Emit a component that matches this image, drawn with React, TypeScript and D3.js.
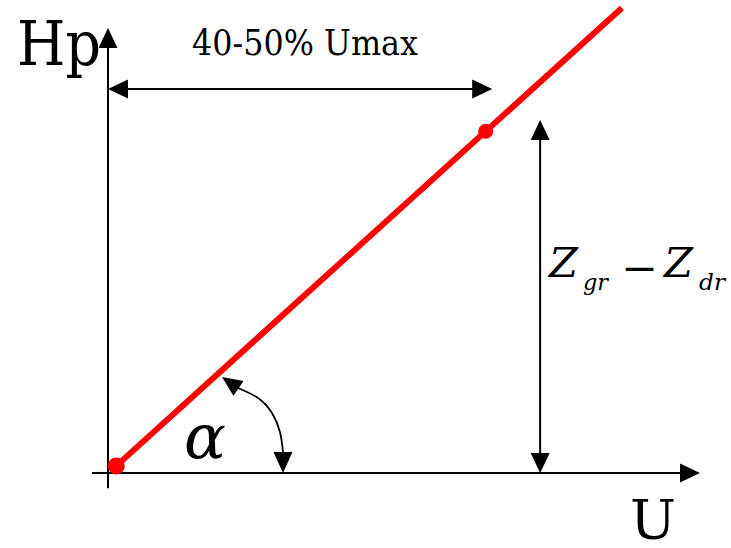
import React from "react";
import * as d3 from "d3";

// diagram values in abstract units (0..100 on both axes)
const uAxis = [-2.7, 100];
const hpAxis = [-3.4, 100];
const headLine = [[1.4, 1.6], [86.8, 104.5]];
const headPoints = [[1.4, 1.6], [63.8, 76.8]];
const spanU = [0, 64.9, 86.3]; // x0, x1, at y
const spanZ = [73, 0, 79.3]; // at x, y0, y1
const angleCurve = [[21.96, 19.1], [25.34, 16.85], [27.7, 13.48], [29.05, 9.21], [29.56, 4.72]];
const angleTips = [[19.26, 21.57], [29.56, 0]];

const W = 731;
const H = 548;
const serif = "DejaVu Serif";

const x = d3.scaleLinear().domain([0, 100]).range([108, 700]);
const y = d3.scaleLinear().domain([0, 100]).range([473, 28]);

// triangle with tip at (tx,ty), pointing along angle a (radians)
function arrowHead(tx: number, ty: number, a: number, len = 20, half = 9.5) {
  const bx = tx - len * Math.cos(a);
  const by = ty - len * Math.sin(a);
  const px = -Math.sin(a) * half;
  const py = Math.cos(a) * half;
  return `${tx},${ty} ${bx + px},${by + py} ${bx - px},${by - py}`;
}

export default function App() {
  const line = d3.line<number[]>().x(d => x(d[0])).y(d => y(d[1]));
  const curve = d3.line<number[]>().x(d => x(d[0])).y(d => y(d[1])).curve(d3.curveNatural);

  const c0 = angleCurve[0];
  const tip0 = angleTips[0];
  const a0 = Math.atan2(y(tip0[1]) - y(c0[1]), x(tip0[0]) - x(c0[0]));

  return (
    <svg width={W} height={H} style={{ position: "absolute", left: 0, top: 0, background: "#fff" }}>
      {/* axes */}
      <line x1={x(uAxis[0])} y1={y(0)} x2={x(uAxis[1]) - 10} y2={y(0)} stroke="#000" strokeWidth={2} />
      <polygon points={arrowHead(x(uAxis[1]), y(0), 0)} fill="#000" />
      <line x1={x(0)} y1={y(hpAxis[0])} x2={x(0)} y2={y(hpAxis[1]) + 10} stroke="#000" strokeWidth={2} />
      <polygon points={arrowHead(x(0), y(hpAxis[1]), -Math.PI / 2)} fill="#000" />

      {/* horizontal span */}
      <line x1={x(spanU[0]) + 10} y1={y(spanU[2])} x2={x(spanU[1]) - 10} y2={y(spanU[2])} stroke="#000" strokeWidth={2} />
      <polygon points={arrowHead(x(spanU[0]), y(spanU[2]), Math.PI)} fill="#000" />
      <polygon points={arrowHead(x(spanU[1]), y(spanU[2]), 0)} fill="#000" />

      {/* vertical span */}
      <line x1={x(spanZ[0])} y1={y(spanZ[1]) - 10} x2={x(spanZ[0])} y2={y(spanZ[2]) + 10} stroke="#000" strokeWidth={2} />
      <polygon points={arrowHead(x(spanZ[0]), y(spanZ[1]), Math.PI / 2)} fill="#000" />
      <polygon points={arrowHead(x(spanZ[0]), y(spanZ[2]), -Math.PI / 2)} fill="#000" />

      {/* angle */}
      <path d={curve(angleCurve) || ""} fill="none" stroke="#000" strokeWidth={1.8} />
      <polygon points={arrowHead(x(tip0[0]), y(tip0[1]), a0, 20, 9)} fill="#000" />
      <polygon points={arrowHead(x(angleTips[1][0]), y(angleTips[1][1]), Math.PI / 2, 21, 9.5)} fill="#000" />

      {/* red line */}
      <path d={line(headLine) || ""} fill="none" stroke="#ff0000" strokeWidth={6} />
      {headPoints.map((p, i) => (
        <circle key={i} cx={x(p[0])} cy={y(p[1])} r={i === 0 ? 8.5 : 7.5} fill="#ff0000" />
      ))}

      {/* labels */}
      <g fontFamily={serif} fill="#000">
        <text x={17} y={65} fontSize={62} textLength={84} lengthAdjust="spacingAndGlyphs">Hp</text>
        <text x={192} y={55} fontSize={36} textLength={226} lengthAdjust="spacingAndGlyphs">40-50% Umax</text>
        <text x={630} y={539} fontSize={55} textLength={46} lengthAdjust="spacingAndGlyphs">U</text>
        <text x={184} y={458} fontSize={62} fontStyle="italic" textLength={42} lengthAdjust="spacingAndGlyphs">α</text>
        <text x={549} y={277} fontSize={41} fontStyle="italic" textLength={29} lengthAdjust="spacingAndGlyphs">Z</text>
        <text x={583} y={290} fontSize={22} fontStyle="italic" textLength={25} lengthAdjust="spacingAndGlyphs">gr</text>
        <text x={621} y={282} fontSize={41} textLength={37} lengthAdjust="spacingAndGlyphs">−</text>
        <text x={664} y={277} fontSize={41} fontStyle="italic" textLength={29} lengthAdjust="spacingAndGlyphs">Z</text>
        <text x={699} y={290} fontSize={22} fontStyle="italic" textLength={26} lengthAdjust="spacingAndGlyphs">dr</text>
      </g>
    </svg>
  );
}
